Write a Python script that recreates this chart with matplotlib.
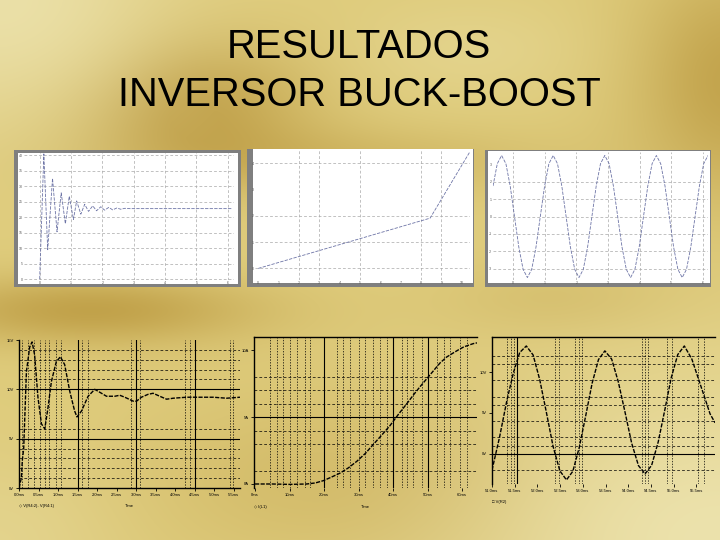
import numpy as np
import matplotlib
matplotlib.use("Agg")
import matplotlib.pyplot as plt

plt.rcParams['font.family'] = ['Liberation Sans', 'DejaVu Sans']

# ---- data ----
# top row (Matlab-style screenshots)
t1 = [0, 0.133, 0.256, 0.41, 0.554, 0.687, 0.82, 0.944, 1.077, 1.18, 1.313, 1.436,
      1.559, 1.692, 1.815, 1.949, 2.072, 2.205, 2.328, 2.462, 2.585, 2.718, 2.872, 6.15]
v1 = [0, 40.5, 9.5, 32.6, 15.3, 27.9, 17.9, 26.8, 19.3, 25.3, 21.0, 24.2,
      21.9, 23.7, 22.1, 23.4, 22.3, 23.2, 22.4, 23.0, 22.6, 22.9, 22.8, 22.8]

t2 = [0, 8.44, 10.4]
v2 = [0, 1.91, 4.44]

t3 = np.linspace(-0.6425, 6.17, 51)  # time base
v3 = [1.75, 3.03, 3.5, 3.03, 1.75, 0, -1.75, -3.03, -3.5, -3.03, -1.75, 0,
      1.75, 3.03, 3.5, 3.03, 1.75, 0, -1.75, -3.03, -3.5, -3.03, -1.75, 0,
      1.75, 3.03, 3.5, 3.03, 1.75, 0, -1.75, -3.03, -3.5, -3.03, -1.75, 0,
      1.75, 3.03, 3.5, 3.03, 1.75, 0, -1.75, -3.03, -3.5, -3.03, -1.75, 0,
      1.75, 3.03, 3.5]

# bottom row (PSpice screenshots)
t4 = [0, 0.12, 0.17, 0.24, 0.38, 0.55, 0.67, 0.80, 0.97, 1.15, 1.32, 1.49, 1.66, 1.91,
      2.12, 2.34, 2.60, 2.85, 2.97, 3.20, 3.54, 3.88, 4.14, 4.48, 4.91, 5.16, 5.42, 5.85,
      6.02, 6.27, 6.62, 6.87, 7.21, 7.56, 7.90, 8.58, 9.26, 9.95, 10.63, 11.32]
v4 = [0, 1.0, 2.8, 4.0, 11.8, 14.3, 14.8, 13.5, 9.2, 6.5, 6.0, 8.2, 10.8, 12.8,
      13.3, 12.5, 9.8, 7.8, 7.2, 7.8, 9.3, 10.0, 9.7, 9.3, 9.3, 9.4, 9.2, 8.8,
      8.8, 9.2, 9.5, 9.6, 9.3, 9.0, 9.1, 9.2, 9.2, 9.2, 9.1, 9.2]

t5 = [0, 0.5, 1.0, 1.5, 1.75, 1.98, 2.2, 2.46, 2.7, 2.95, 3.2, 3.43, 3.65, 3.91,
      4.15, 4.40, 4.6, 4.78, 5.07, 5.36, 5.55, 5.75, 5.9, 6.04, 6.2, 6.33, 6.43]
v5 = [0, 0, -0.03, 0, 0.08, 0.25, 0.5, 0.81, 1.2, 1.70, 2.3, 2.97, 3.6, 4.37,
      5.2, 6.02, 6.7, 7.28, 8.17, 9.06, 9.5, 9.82, 10.05, 10.25, 10.4, 10.51, 10.56]

t6 = [0, 0.33, 0.66, 0.95, 1.22, 1.51, 1.81, 2.10, 2.40, 2.69, 2.99, 3.28, 3.56, 3.84,
      4.13, 4.41, 4.69, 4.97, 5.27, 5.56, 5.86, 6.15, 6.45, 6.74, 7.03, 7.32, 7.61,
      7.89, 8.18, 8.47, 8.8, 9.1, 9.4, 9.6, 9.82]
v6 = [-2.0, 2.0, 6.6, 10.0, 12.4, 13.2, 12.1, 9.1, 5.0, 0.9, -2.1, -3.2, -2.14, 0.75,
      4.7, 8.65, 11.54, 12.6, 11.59, 8.83, 5.07, 1.3, -1.45, -2.46, -1.41, 1.46, 5.37,
      9.29, 12.15, 13.2, 11.6, 9.1, 6.6, 4.9, 3.8]

fig = plt.figure(figsize=(7.2, 5.4), dpi=100)


def px_box(l, t, r, b):
    return [l / 720, 1 - b / 540, (r - l) / 720, (b - t) / 540]


# gold background: base tone with a few darker / lighter soft patches
bg = fig.add_axes([0, 0, 1, 1], zorder=-10)
xx, yy = np.meshgrid(np.arange(720), np.arange(540))


def blob(cx, cy, sx, sy, w):
    return w * np.exp(-((xx - cx) / sx) ** 2 - ((yy - cy) / sy) ** 2)


dark = (blob(190, 105, 120, 70, 1.0) + blob(90, 310, 170, 35, 0.95)
        + blob(730, 80, 100, 120, 0.9) + blob(330, 160, 220, 35, 0.45)
        + blob(380, 480, 230, 90, 0.45) + blob(560, 300, 120, 40, 0.3))
dark = np.clip(dark, 0, 1)
light = np.clip(blob(0, 0, 170, 130, 0.9) + blob(720, 540, 260, 170, 1.0)
                + blob(0, 540, 120, 90, 0.35) + blob(470, 50, 120, 50, 0.3), 0, 1)
c_mid = np.array([223, 204, 124]) / 255
c_dark = np.array([192, 160, 72]) / 255
c_light = np.array([236, 226, 172]) / 255
img = c_mid * (1 - dark[..., None]) + c_dark * dark[..., None]
img = img * (1 - light[..., None]) + c_light * light[..., None]
bg.imshow(img, aspect='auto')
bg.set_axis_off()

fig.text(0.4986, 1 - 58 / 540, "RESULTADOS", ha='center', va='baseline', fontsize=28.7)
fig.text(0.4986, 1 - 106 / 540, "INVERSOR BUCK-BOOST", ha='center', va='baseline', fontsize=28.7)


def top_panel(frame, white, box, x, y, xlim, ylim, xticks, yticks, xgrid, ygrid):
    card = fig.add_axes(px_box(*frame))
    card.set_facecolor('#7f7f7f')
    card.set_xticks([]); card.set_yticks([])
    for sp in card.spines.values():
        sp.set_visible(False)
    inner = fig.add_axes(px_box(*white))
    inner.set_facecolor('white')
    inner.set_xticks([]); inner.set_yticks([])
    for sp in inner.spines.values():
        sp.set_visible(False)
    ax = fig.add_axes(px_box(*box))
    ax.patch.set_alpha(0)
    for g in xgrid:
        ax.axvline(g, color='#a8a8a8', lw=0.5, ls=(0, (4, 3)))
    for g in ygrid:
        ax.axhline(g, color='#a8a8a8', lw=0.5, ls=(0, (4, 3)))
    ax.plot(x, y, color='#6d74a6', lw=0.6, ls=(0, (4, 1.5)))
    ax.set_xlim(*xlim); ax.set_ylim(*ylim)
    ax.set_xticks(xticks); ax.set_yticks(yticks)
    ax.set_xticklabels([str(k) for k in xticks])
    ax.set_yticklabels([str(k) for k in yticks])
    ax.tick_params(labelsize=2.5, length=0, pad=1, colors='#555555')
    for sp in ax.spines.values():
        sp.set_visible(False)
    return ax


top_panel((14, 150, 241, 287), (18, 153, 238, 284), (24, 153, 234, 280),
          t1, v1, (-0.5, 6.2), (-0.3, 40.8), list(range(7)), list(range(0, 41, 5)),
          list(range(7)), list(range(0, 41, 5)))
top_panel((247, 149, 474, 287), (253, 149, 473, 283), (255, 150, 470, 280),
          t2, v2, (-0.16, 10.4), (-0.44, 4.5), list(range(11)), list(range(5)),
          [2, 3, 5, 8, 9], [0, 1, 2, 4])
top_panel((485, 150, 711, 287), (488, 151, 710, 283), (493, 152, 708, 280),
          t3, v3, (-0.6425, 6.17), (-3.64, 3.7), list(range(7)), list(range(-3, 4)),
          list(range(7)), [-3, -2, -1, 0, 1, 2])


def bottom_panel(box, x, y, xlim, ylim, major_v, major_h, minor_v, minor_h,
                 xticks, xlabels, yticks, ylabels, spines, legend, time_label):
    ax = fig.add_axes(px_box(*box))
    ax.patch.set_alpha(0)
    for g in minor_v:
        ax.axvline(g, color='black', lw=0.5, ls=(0, (2, 2)))
    for g in minor_h:
        ax.axhline(g, color='black', lw=0.5, ls=(0, (4, 3)))
    for g in major_v:
        ax.axvline(g, color='black', lw=0.8)
    for g in major_h:
        ax.axhline(g, color='black', lw=0.8)
    ax.plot(x, y, color='black', lw=1.0, ls=(0, (3, 1)))
    ax.set_xlim(*xlim); ax.set_ylim(*ylim)
    ax.set_xticks(xticks); ax.set_xticklabels(xlabels)
    ax.set_yticks(yticks); ax.set_yticklabels(ylabels)
    ax.tick_params(labelsize=3, length=2, width=0.6, pad=1.5, colors='black')
    for name, sp in ax.spines.items():
        sp.set_visible(name in spines)
        sp.set_linewidth(1.0)
    ax.text(0.0, -0.11, legend, transform=ax.transAxes, fontsize=3, ha='left', va='top')
    if time_label:
        ax.text(0.5, -0.11, "Time", transform=ax.transAxes, fontsize=3, ha='center', va='top')
    return ax


bottom_panel((19, 340, 240, 488), t4, v4, (0, 11.32), (0, 14.8),
             [3, 6, 9], [5, 10],
             [0.17, 0.46, 0.77, 1.09, 1.32, 1.54, 1.91, 2.17, 3.25, 3.54, 5.76, 6.19,
              8.50, 8.75, 10.8, 10.97],
             [1, 2, 3, 4, 6, 11, 12, 13, 14],
             list(range(12)), [f"{0.5 * k:.1f}ms" for k in range(12)],
             [0, 5, 10, 15], ["0V", "5V", "10V", "15V"],
             ['left', 'bottom'], "\u25c7 V(R4:2)- V(R4:1)", True)

bottom_panel((254, 337, 477, 488), t5, v5, (-0.03, 6.43), (-0.3, 11.0),
             [2, 4, 5], [5],
             [0.43, 0.63, 0.82, 1.01, 1.23, 1.45, 1.59, 2.37, 2.56, 2.75, 3.0, 3.19,
              3.43, 3.62, 3.82, 4.25, 4.40, 4.59, 4.83, 5.27, 5.46, 5.65, 5.94, 6.14],
             [1, 3, 4, 6, 7, 8],
             list(range(7)), [f"{10 * k}ms" for k in range(7)],
             [0, 5, 10], ["0A", "5A", "10A"],
             ['left', 'top'], "\u25c7 I(L1)", True)

bottom_panel((492, 337, 715, 484), t6, v6, (0, 9.82), (-3.7, 14.3),
             [1.12], [0],
             [0.66, 0.85, 0.97, 2.76, 2.94, 3.65, 3.82, 3.97, 6.59, 6.74, 6.88, 7.69,
              7.91, 9.09, 9.35],
             [12, 11, 9, 7, 6, 4, 2, 1, -2],
             list(range(10)), [f"{51.0 + 0.5 * k:.1f}ms" for k in range(10)],
             [0, 5, 10], ["0V", "5V", "10V"],
             ['left', 'top'], "\u25a1 V(R2)", False)

fig.savefig("out.png", dpi=100)
